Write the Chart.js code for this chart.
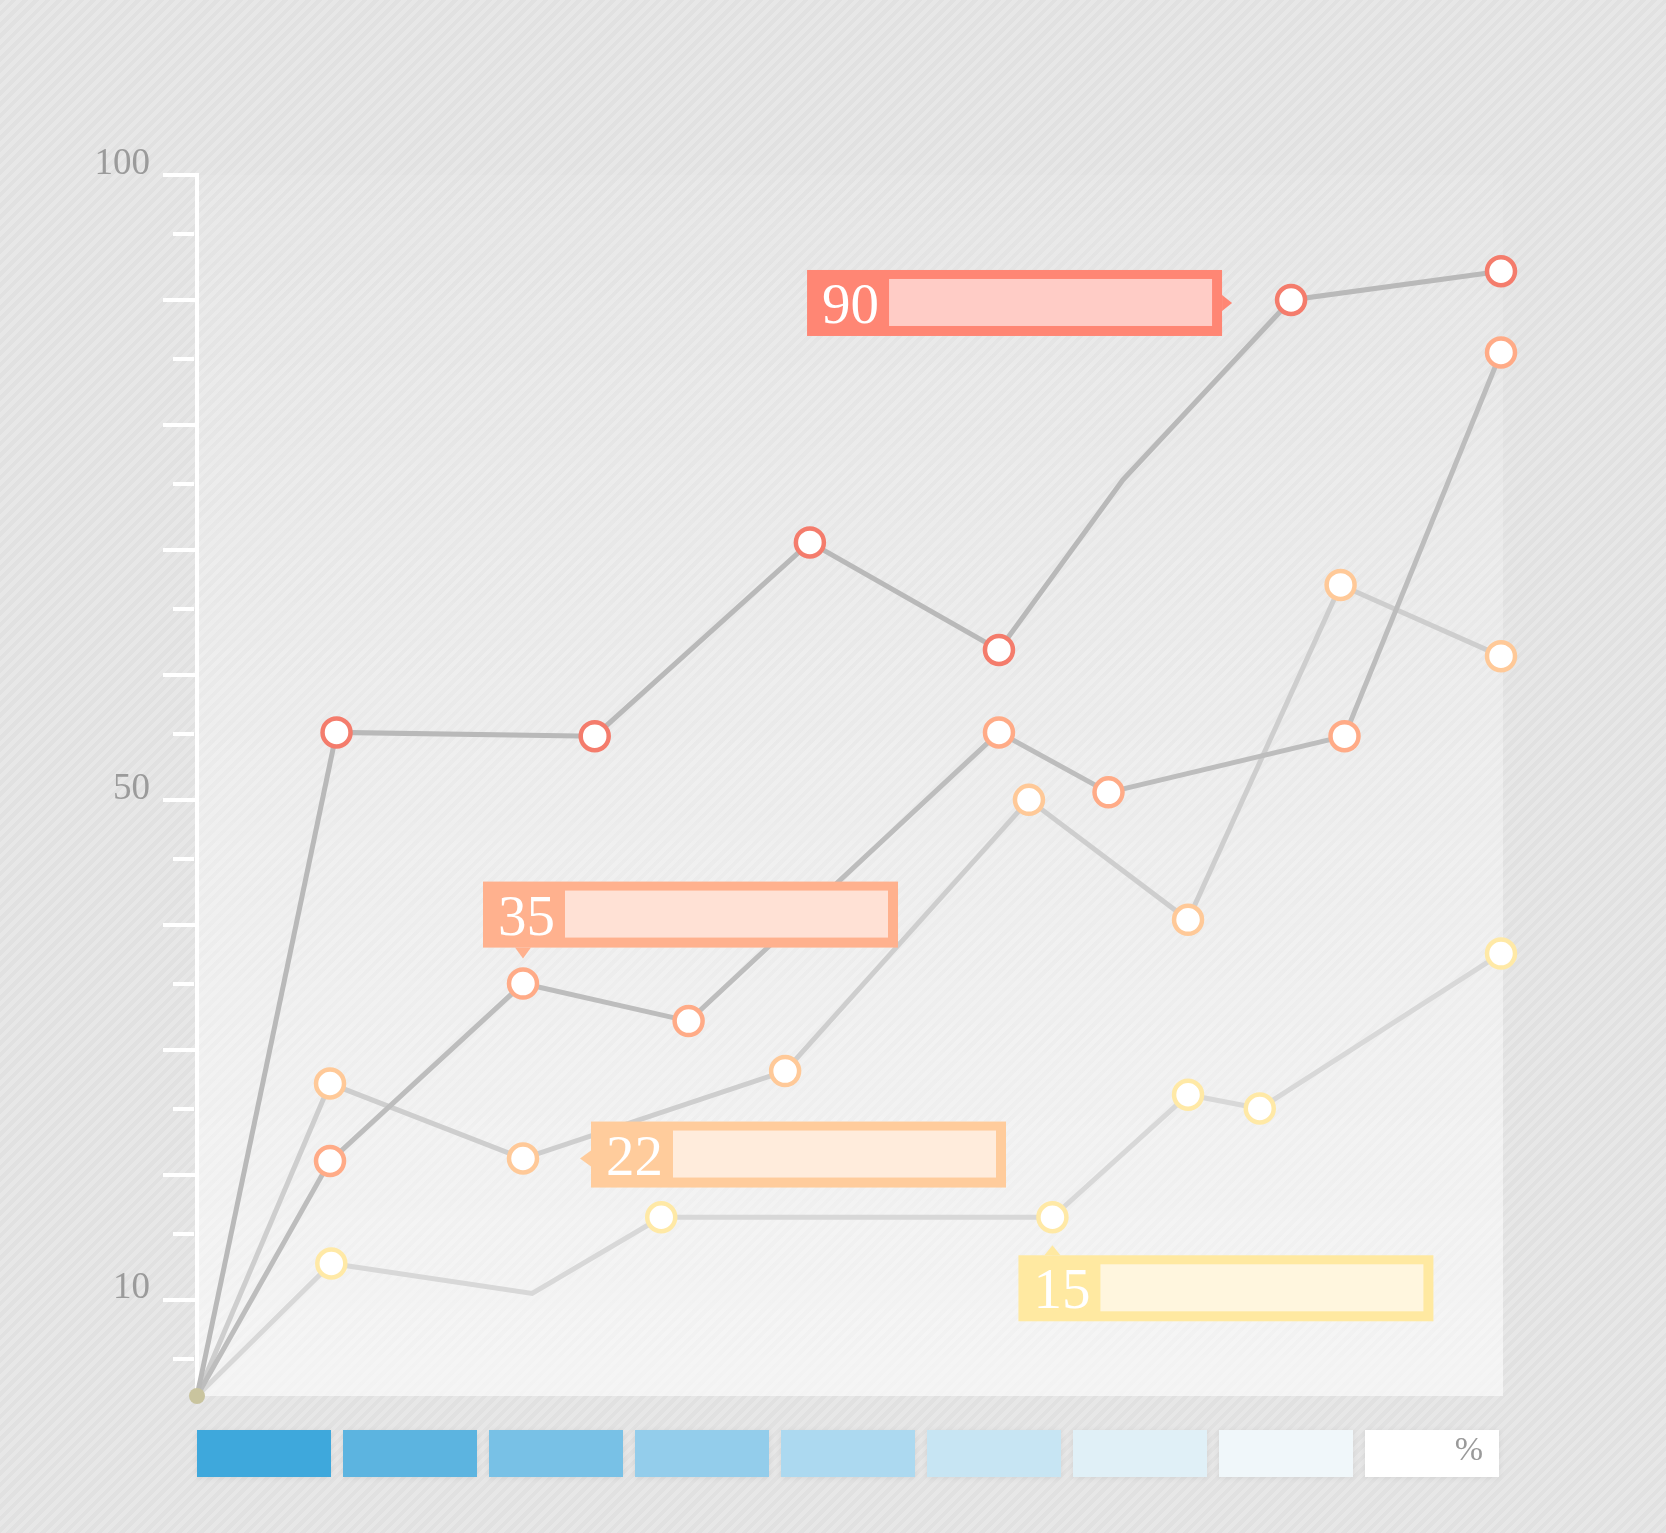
<!DOCTYPE html>
<html>
<head>
<meta charset="utf-8">
<title>Line chart</title>
<script src="https://cdn.jsdelivr.net/npm/chart.js@4.4.1/dist/chart.umd.min.js"></script>
<style>
  html, body { margin: 0; padding: 0; }
  body {
    width: 1666px;
    height: 1533px;
    overflow: hidden;
    position: relative;
    background: repeating-linear-gradient(135deg, #e1e1e1 0 4px, #e7e7e7 4px 8px);
  }
  #wrap { position: absolute; left: 0; top: 0; width: 1666px; height: 1533px; }
  .swatch {
    position: absolute;
    top: 1430px;
    width: 134px;
    height: 47px;
    box-shadow: 0 1px 6px rgba(0, 0, 0, 0.07);
  }
  .swatch span {
    position: absolute;
    right: 16px;
    top: 0;
    line-height: 47px;
    font: 34px "Liberation Serif", serif;
    color: #9a9a9a;
  }
</style>
</head>
<body>
<div id="wrap"><canvas id="lineChart"></canvas></div>
<div id="scale"></div>
<script>
  // series values (x = horizontal position 0..100, y = value)
  const xRed = [0, 10.7, 30.5, 47.0, 61.5, 71.0, 83.9, 100];
  const yRed = [2.3, 55.4, 55.1, 70.6, 62.0, 75.6, 90.0, 92.3];
  const xSalmon = [0, 10.2, 25.0, 37.7, 61.5, 69.9, 88.0, 100];
  const ySalmon = [2.3, 21.1, 35.3, 32.3, 55.4, 50.6, 55.1, 85.8];
  const xPeach = [0, 10.2, 25.0, 45.1, 63.8, 76.0, 87.7, 100];
  const yPeach = [2.3, 27.3, 21.3, 28.3, 50.0, 40.4, 67.2, 61.5];
  const xYellow = [0, 10.3, 25.7, 35.6, 65.6, 76.0, 81.5, 100];
  const yYellow = [2.3, 12.9, 10.5, 16.6, 16.6, 26.4, 25.3, 37.7];

  // points drawn without a marker
  const redNoMarker = [0, 5];
  const yellowNoMarker = [0, 2];

  // axis ticks
  const majorTicks = [10, 20, 30, 40, 50, 60, 70, 80, 90, 100];
  const minorTicks = [5.3, 15.3, 25.3, 35.3, 45.3, 55.3, 65.3, 75.3, 85.3, 95.3];
  const tickLabels = [10, 50, 100];

  // callouts
  const calloutText = ['90', '35', '22', '15'];
  const calloutSeries = [1, 2, 3, 4];
  const calloutPoint = [6, 2, 2, 4];

  const toPoints = (xs, ys) => xs.map((x, i) => ({ x: x, y: ys[i] }));

  const swatchColors = ['#3ea8dc', '#5cb4e0', '#78c1e6', '#93cdeb', '#acd9f0', '#c7e5f3', '#e0f0f7', '#f0f7fa', '#ffffff'];
  const scaleBox = document.getElementById('scale');
  swatchColors.forEach((c, i) => {
    const d = document.createElement('div');
    d.className = 'swatch';
    d.style.left = (197 + i * 146) + 'px';
    d.style.background = c;
    if (i === swatchColors.length - 1) d.innerHTML = '<span>%</span>';
    scaleBox.appendChild(d);
  });

  function lineSet(xs, ys, lineColor, markColor, hidden) {
    return {
      data: toPoints(xs, ys),
      showLine: true,
      borderColor: lineColor,
      borderWidth: 5,
      tension: 0,
      pointRadius: ctx => hidden.includes(ctx.dataIndex) ? 0 : 14,
      pointBackgroundColor: '#ffffff',
      pointBorderColor: markColor,
      pointBorderWidth: 4.5,
      clip: false
    };
  }

  const backdrop = {
    id: 'backdrop',
    beforeDatasetsDraw(chart) {
      const { ctx, chartArea } = chart;
      const g = ctx.createLinearGradient(0, chartArea.top, 0, chartArea.bottom);
      g.addColorStop(0, 'rgba(255,255,255,0.08)');
      g.addColorStop(1, 'rgba(255,255,255,0.6)');
      ctx.save();
      ctx.fillStyle = g;
      ctx.fillRect(chartArea.left, chartArea.top, chartArea.right + 2 - chartArea.left, chartArea.bottom - chartArea.top);
      ctx.restore();
    }
  };

  const tickMarks = {
    id: 'tickMarks',
    afterDraw(chart) {
      const { ctx } = chart;
      const y = chart.scales.y;
      const left = chart.chartArea.left;
      ctx.save();
      ctx.strokeStyle = '#ffffff';
      ctx.lineWidth = 4;
      majorTicks.forEach(v => {
        const py = Math.round(y.getPixelForValue(v));
        ctx.beginPath(); ctx.moveTo(left - 34, py); ctx.lineTo(left, py); ctx.stroke();
      });
      minorTicks.forEach(v => {
        const py = Math.round(y.getPixelForValue(v));
        ctx.beginPath(); ctx.moveTo(left - 24, py); ctx.lineTo(left - 3, py); ctx.stroke();
      });
      ctx.restore();
    }
  };

  const calloutStyle = [
    { dx: -484, dy: -30, side: 'right', edge: '#ff8674', fill: '#ffccc6' },
    { dx: -40, dy: -102, side: 'bottom', edge: '#ffb18e', fill: '#ffe1d5' },
    { dx: 68, dy: -37, side: 'left', edge: '#ffcc9c', fill: '#ffecdc' },
    { dx: -34, dy: 38, side: 'top', edge: '#ffe9a1', fill: '#fff6de' }
  ];

  const callouts = {
    id: 'callouts',
    afterDatasetsDraw(chart) {
      const { ctx } = chart;
      const w = 415, h = 66;
      ctx.save();
      calloutText.forEach((txt, i) => {
        const el = chart.getDatasetMeta(calloutSeries[i]).data[calloutPoint[i]];
        const s = calloutStyle[i];
        const bx = el.x + s.dx, by = el.y + s.dy;
        ctx.fillStyle = s.edge;
        ctx.fillRect(bx, by, w, h);
        ctx.beginPath();
        if (s.side === 'right') {
          const my = by + h / 2;
          ctx.moveTo(bx + w, my - 8); ctx.lineTo(bx + w + 10, my); ctx.lineTo(bx + w, my + 8);
        } else if (s.side === 'left') {
          ctx.moveTo(bx, el.y - 8); ctx.lineTo(bx - 11, el.y); ctx.lineTo(bx, el.y + 8);
        } else if (s.side === 'bottom') {
          ctx.moveTo(el.x - 8, by + h); ctx.lineTo(el.x, by + h + 11); ctx.lineTo(el.x + 8, by + h);
        } else {
          ctx.moveTo(el.x - 8, by); ctx.lineTo(el.x, by - 10); ctx.lineTo(el.x + 8, by);
        }
        ctx.closePath();
        ctx.fill();
        ctx.fillStyle = s.fill;
        ctx.fillRect(bx + 82, by + 9, w - 92, h - 19);
        ctx.fillStyle = '#ffffff';
        ctx.font = '57px "Liberation Serif", serif';
        ctx.textAlign = 'left';
        ctx.textBaseline = 'alphabetic';
        ctx.fillText(txt, bx + 15, by + 53);
      });
      ctx.restore();
    }
  };

  const lineChart = new Chart(document.getElementById('lineChart').getContext('2d'), {
    type: 'scatter',
    data: {
      datasets: [
        {
          data: [{ x: 0, y: 2.3 }],
          pointRadius: 8,
          pointBackgroundColor: '#c9c49e',
          pointBorderWidth: 0,
          showLine: false,
          clip: false
        },
        lineSet(xRed, yRed, '#b9b9b9', '#f47c6c', redNoMarker),
        lineSet(xSalmon, ySalmon, '#bdbdbd', '#ffab87', [0]),
        lineSet(xPeach, yPeach, '#cecece', '#ffc998', [0]),
        lineSet(xYellow, yYellow, '#d8d8d8', '#ffe9a6', yellowNoMarker)
      ]
    },
    options: {
      responsive: true,
      maintainAspectRatio: false,
      animation: false,
      layout: { padding: { left: 0, top: 175, right: 165, bottom: 137 } },
      plugins: {
        legend: { display: false },
        tooltip: { enabled: false }
      },
      scales: {
        x: { type: 'linear', min: 0, max: 100, display: false },
        y: {
          min: 2.3,
          max: 100,
          afterFit: scale => { scale.width = 197; },
          afterBuildTicks: scale => { scale.ticks = tickLabels.map(v => ({ value: v })); },
          grid: { drawOnChartArea: false, drawTicks: false },
          border: { display: true, color: '#ffffff', width: 4 },
          ticks: {
            padding: 47,
            labelOffset: -11,
            color: '#9b9b9b',
            font: { family: 'Liberation Serif', size: 37 },
            callback: v => String(v)
          }
        }
      }
    },
    plugins: [backdrop, tickMarks, callouts]
  });
</script>
</body>
</html>
